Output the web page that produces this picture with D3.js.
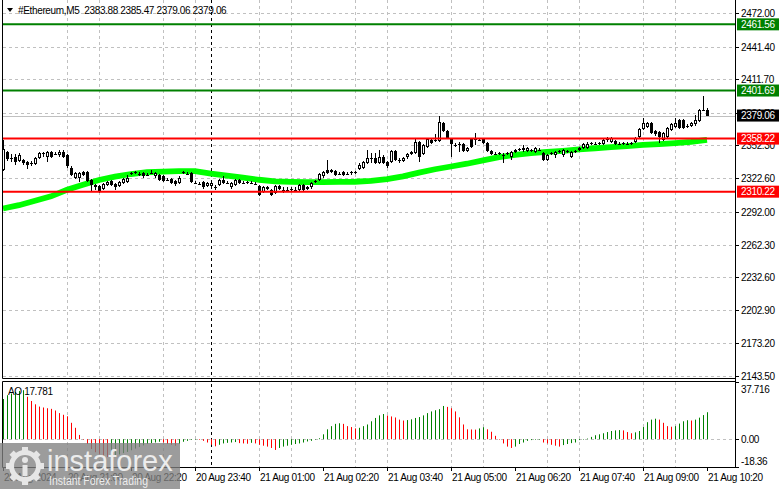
<!DOCTYPE html>
<html><head><meta charset="utf-8">
<script src="https://cdn.jsdelivr.net/npm/d3@7"></script>
<style>
html,body{margin:0;padding:0;background:#fff;overflow:hidden}
svg{display:block}
text{font-family:"Liberation Sans",Arial,sans-serif}
</style>
</head><body>
<svg id="chart" width="781" height="489"></svg>
<script>
// ---------------- DATA ----------------
const symbolTitle = "#Ethereum,M5";
const firstBar = "2024-08-20 19:40";
const barMinutes = 5;

const openP = [2330,2346,2342,2342,2338,2339,2337,2335,2335,2341,2344,2342,2346,2345,2343,2346,2343,2332,2323,2323,
2328,2328,2321,2316,2315,2313,2316,2320,2317,2315,2318,2319,2326,2327,2327,2327,2326,2328,2324,2325,
2324,2322,2322,2320,2318,2327,2327,2327,2319,2318,2319,2315,2315,2315,2316,2321,2319,2314,2316,2321,
2319,2318,2319,2318,2315,2310,2313,2312,2309,2315,2313,2313,2312,2313,2312,2316,2313,2314,2319,2321,
2324,2330,2330,2329,2327,2328,2327,2327,2327,2331,2332,2336,2340,2341,2336,2342,2337,2337,2347,2340,
2338,2342,2344,2345,2355,2344,2351,2357,2356,2356,2372,2365,2358,2352,2354,2353,2347,2358,2357,2358,
2358,2354,2347,2345,2344,2344,2344,2342,2346,2348,2348,2347,2347,2346,2349,2345,2339,2344,2343,2346,
2343,2346,2342,2346,2348,2350,2350,2353,2354,2353,2353,2357,2355,2356,2354,2353,2354,2353,2355,2360,
2367,2369,2372,2365,2364,2357,2360,2366,2369,2375,2375,2369,2370,2371,2374,2384,2383.88];
const highP = [2357,2347,2344,2344,2345,2340,2338,2338,2342,2346,2346,2347,2347,2346,2348,2348,2344,2333,2328,2328,
2329,2329,2322,2317,2316,2318,2320,2321,2318,2320,2323,2325,2328,2329,2328,2328,2327,2330,2328,2326,
2325,2323,2323,2321,2324,2329,2328,2328,2320,2319,2320,2319,2319,2316,2322,2324,2320,2319,2322,2322,
2320,2320,2320,2319,2316,2315,2315,2313,2316,2316,2314,2314,2314,2314,2317,2317,2315,2319,2321,2327,
2329,2339,2331,2330,2328,2329,2328,2329,2329,2336,2338,2348,2345,2345,2348,2343,2338,2348,2348,2341,
2342,2345,2347,2358,2356,2353,2359,2359,2362,2379,2373,2366,2359,2354,2355,2354,2351,2359,2363,2359,
2359,2355,2348,2346,2346,2345,2346,2347,2349,2350,2352,2351,2349,2351,2350,2346,2344,2346,2347,2348,
2349,2348,2347,2348,2351,2354,2355,2355,2355,2355,2358,2360,2360,2357,2355,2355,2355,2355,2360,2368,
2377,2373,2373,2366,2365,2364,2369,2372,2377,2376,2376,2371,2373,2380,2385,2397,2385.47];
const lowP = [2329,2338,2337,2334,2337,2334,2331,2333,2334,2340,2342,2337,2341,2343,2342,2341,2332,2324,2322,2319,
2324,2319,2310,2312,2309,2312,2315,2315,2312,2314,2317,2318,2325,2326,2324,2323,2324,2326,2323,2320,
2319,2320,2317,2315,2317,2326,2325,2318,2317,2316,2313,2314,2313,2312,2315,2317,2317,2313,2315,2317,
2317,2317,2317,2316,2306,2309,2312,2306,2308,2312,2309,2311,2311,2311,2311,2311,2312,2313,2318,2320,
2323,2326,2327,2324,2325,2324,2325,2325,2326,2330,2331,2335,2336,2335,2335,2335,2332,2336,2338,2336,
2337,2340,2343,2344,2337,2343,2350,2353,2355,2355,2364,2358,2342,2351,2346,2346,2346,2350,2352,2356,
2353,2346,2343,2343,2343,2336,2343,2339,2345,2347,2346,2346,2346,2345,2347,2338,2338,2343,2341,2345,
2342,2345,2341,2345,2347,2349,2349,2352,2352,2352,2352,2355,2354,2352,2352,2352,2352,2352,2354,2359,
2366,2368,2362,2361,2354,2356,2359,2365,2368,2367,2367,2368,2369,2370,2373,2383,2379.06];
const closeP = [2349,2340,2341,2337,2343,2336,2334,2336,2341,2345,2345,2346,2342,2344,2346,2342,2333,2325,2327,2327,
2325,2320,2316,2314,2311,2317,2319,2316,2314,2319,2322,2323,2327,2328,2326,2324,2325,2327,2327,2321,
2320,2321,2318,2317,2323,2328,2326,2319,2318,2317,2314,2318,2318,2314,2321,2318,2318,2318,2321,2318,
2318,2319,2318,2317,2307,2314,2314,2307,2315,2313,2312,2312,2313,2312,2316,2312,2314,2318,2320,2326,
2328,2327,2328,2325,2326,2325,2326,2328,2328,2334,2337,2341,2340.5,2336,2342,2336,2333,2347,2339,2339,
2341,2344,2346,2355,2342,2352,2358,2354,2357,2373,2365,2359,2353,2352.5,2353,2347,2350,2351,2358,2357,
2354,2347,2344,2344,2345,2343,2345,2346,2348,2349,2350,2350,2348,2350,2348,2339,2343,2345,2346,2347,
2348,2347,2346,2347,2350,2353,2353,2354,2353,2354,2357,2358,2359,2353,2353,2354,2353,2354,2359,2367,
2372,2372,2363,2362,2360,2363,2368,2371,2372,2368,2368,2370,2372,2375,2384,2384.5,2379.06];

// moving average, read every 4th bar
const maEvery = 4;
const maValues = [2295,2298,2302,2306,2312,2316.5,2320.8,2323.8,2326.2,2327.8,2328.3,2328.8,2328.8,2326.6,2324.8,
2323,2321,2319.5,2319,2318.8,2318.8,2319,2319.2,2320,2321.5,2324,2327.5,2330.5,2333,2335.5,
2338.5,2341.5,2343.5,2345,2346.2,2347.2,2348.5,2349.5,2350.5,2351.5,2352.5,2353.3,2354.2,2355.3,2357];

// Awesome Oscillator per bar
const aoValues = [26.5,29.0,30.1,31.2,31.8,32.3,28.0,25.2,23.0,21.5,20.9,20.4,20.0,18.9,17.2,16.1,15.1,10.8,7.5,2.8,
-0.2,-3.2,-6.5,-8.6,-9.7,-10.8,-11.8,-11.4,-10.8,-10.1,-9.2,-8.4,-7.3,-6.2,-5.2,-4.1,-3.2,-2.6,-2.2,-1.7,
-2.2,-3.2,-3.7,-4.3,-3.2,-1.7,-1.1,-0.4,0.1,-0.4,-1.1,-2.2,-3.7,-4.7,-3.7,-2.8,-2.4,-2.2,-1.9,-2.6,
-2.8,-3.0,-2.4,-2.8,-3.7,-4.3,-4.9,-5.8,-7.1,-5.8,-4.9,-4.3,-3.7,-3.2,-2.8,-2.2,-1.5,-1.1,-0.2,0.6,
3.2,6.5,8.6,10.1,10.5,10.1,8.6,8.0,7.1,7.5,8.6,9.7,11.8,14.0,15.7,16.6,15.6,15.0,14.3,12.9,
12.3,12.6,13.1,14.0,14.6,15.7,17.2,18.3,19.1,19.8,21.9,21.3,20.4,18.3,14.4,9.7,6.5,6.4,6.3,7.1,
7.9,6.5,4.9,2.2,0.0,-2.8,-4.9,-5.8,-4.9,-3.2,-2.2,-1.1,-0.6,-0.4,-0.2,-2.2,-2.8,-3.7,-4.3,-4.9,
-3.9,-3.2,-2.6,-2.2,-0.6,-0.2,0.4,1.5,2.6,3.2,3.9,4.7,5.4,5.8,6.0,5.8,4.7,3.9,4.5,5.4,
8.0,11.2,12.9,13.5,12.9,10.8,8.6,8.2,8.6,10.3,11.8,12.5,12.3,12.9,14.2,15.9,17.781];

const priceTicks = [2472.00,2441.40,2411.70,2381.70,2352.30,2322.60,2292.00,2262.30,2232.60,2202.90,2173.20,2143.50];
const aoTicks = [37.716, 0.00, -18.36];
const timeLabelTimes = ["2024-08-20 19:40","2024-08-20 21:00","2024-08-20 22:20","2024-08-20 23:40","2024-08-21 01:00","2024-08-21 02:20",
"2024-08-21 03:40","2024-08-21 05:00","2024-08-21 06:20","2024-08-21 07:40","2024-08-21 09:00","2024-08-21 10:20"];
const timeLabels = ["20 Aug 2024","20 Aug 21:00","20 Aug 22:20","20 Aug 23:40","21 Aug 01:00","21 Aug 02:20",
"21 Aug 03:40","21 Aug 05:00","21 Aug 06:20","21 Aug 07:40","21 Aug 09:00","21 Aug 10:20"];
const resistanceLevels = [2461.56, 2401.69];
const supportLevels = [2358.22, 2310.22];
const daySeparator = "2024-08-21 00:00";

// ---------------- LAYOUT ----------------
const W = 781, H = 489;
const L = 3, R = 735;
const mainTop = 0, mainBot = 378;
const aoTop = 382, aoBot = 467;
const parse = d3.timeParse("%Y-%m-%d %H:%M");
const t0 = parse(firstBar);
const times = openP.map((_, i) => d3.timeMinute.offset(t0, i * barMinutes));
const tEnd = times[times.length - 1];

const x = d3.scaleTime().domain([t0, tEnd]).range([3, 707]);
const y = d3.scaleLinear().domain([2143.5, 2472]).range([376, 12.8]);
const ya = d3.scaleLinear().domain([d3.min(aoTicks), d3.max(aoTicks)]).range([aoBot, aoTop]);

const svg = d3.select("#chart");
svg.append("rect").attr("width", W).attr("height", H).attr("fill", "#fff");

const GRID = "#c0c0c0";
const FONT = 10;
const LS = "-0.35px";

const gridTimes = d3.timeMinute.every(40).range(d3.timeMinute.offset(t0, 1), d3.timeMinute.offset(tEnd, 1))
  .filter(t => (t - t0) % (40 * 60000) === 0);
const gv = svg.append("g");
gridTimes.forEach(t => {
  const gx = Math.round(x(t)) + 0.5;
  gv.append("line").attr("x1", gx).attr("x2", gx).attr("y1", mainTop).attr("y2", mainBot)
    .attr("stroke", GRID).attr("stroke-dasharray", "3,3");
  gv.append("line").attr("x1", gx).attr("x2", gx).attr("y1", aoTop).attr("y2", aoBot)
    .attr("stroke", GRID).attr("stroke-dasharray", "3,3");
});
priceTicks.forEach(p => {
  const gy = Math.round(y(p)) + 0.5;
  gv.append("line").attr("x1", L).attr("x2", R).attr("y1", gy).attr("y2", gy)
    .attr("stroke", GRID).attr("stroke-dasharray", "3,3");
});
{
  const zy = Math.round(ya(0)) + 0.5;
  gv.append("line").attr("x1", L).attr("x2", R + 4).attr("y1", zy).attr("y2", zy)
    .attr("stroke", GRID).attr("stroke-dasharray", "3,3");
}

const lastClose = closeP[closeP.length - 1];
svg.append("line").attr("x1", L).attr("x2", R).attr("y1", Math.round(y(lastClose)) + 0.5).attr("y2", Math.round(y(lastClose)) + 0.5)
  .attr("stroke", "#c0c0c0").attr("stroke-width", 1);

{
  const sx = Math.round(x(parse(daySeparator))) + 0.5;
  svg.append("line").attr("x1", sx).attr("x2", sx).attr("y1", mainTop).attr("y2", aoBot)
    .attr("stroke", "#000").attr("stroke-dasharray", "3,3");
}

const maPts = maValues.map((v, k) => [x(times[k * maEvery]), y(v)]);
svg.append("path").attr("d", d3.line().curve(d3.curveLinear)(maPts))
  .attr("fill", "none").attr("stroke", "#00ff00").attr("stroke-width", 5.8);

const cg = svg.append("g");
openP.forEach((o, i) => {
  const c = closeP[i], h = highP[i], l = lowP[i];
  const cx = Math.round(x(times[i]));
  const yh = Math.round(y(h)), yl = Math.round(y(l));
  cg.append("rect").attr("x", cx).attr("y", yh).attr("width", 1).attr("height", Math.max(1, yl - yh)).attr("fill", "#000");
  const yt = Math.round(y(Math.max(o, c))), yb = Math.round(y(Math.min(o, c)));
  if (yb - yt < 2) {
    cg.append("rect").attr("x", cx - 1).attr("y", Math.round(y(c))).attr("width", 3).attr("height", 1).attr("fill", "#000");
  } else if (c > o) {
    cg.append("rect").attr("x", cx - 0.5).attr("y", yt + 0.5).attr("width", 2).attr("height", yb - yt - 1)
      .attr("fill", "#fff").attr("stroke", "#000").attr("stroke-width", 1);
  } else {
    cg.append("rect").attr("x", cx - 1).attr("y", yt).attr("width", 3).attr("height", yb - yt).attr("fill", "#000");
  }
});

resistanceLevels.forEach(p => {
  svg.append("line").attr("x1", L).attr("x2", R).attr("y1", y(p)).attr("y2", y(p)).attr("stroke", "#008000").attr("stroke-width", 2);
});
supportLevels.forEach(p => {
  svg.append("line").attr("x1", L).attr("x2", R).attr("y1", y(p)).attr("y2", y(p)).attr("stroke", "#ff0000").attr("stroke-width", 2);
});

const ag = svg.append("g");
aoValues.forEach((v, i) => {
  const up = i === 0 || v > aoValues[i - 1];
  const cx = Math.round(x(times[i]));
  const y0 = ya(0), y1 = ya(v);
  ag.append("rect").attr("x", cx).attr("y", Math.min(y0, y1)).attr("width", 1).attr("height", Math.max(0.5, Math.abs(y1 - y0)))
    .attr("fill", up ? "#008000" : "#ff0000");
});

const bd = svg.append("g").attr("stroke", "#000").attr("stroke-width", 1);
bd.append("line").attr("x1", 2.5).attr("x2", 2.5).attr("y1", 0).attr("y2", mainBot + 0.5);
bd.append("line").attr("x1", R + 0.5).attr("x2", R + 0.5).attr("y1", 0).attr("y2", aoBot + 0.5);
bd.append("line").attr("x1", 2.5).attr("x2", R + 0.5).attr("y1", mainBot + 0.5).attr("y2", mainBot + 0.5);
bd.append("line").attr("x1", 2.5).attr("x2", R + 0.5).attr("y1", aoTop - 0.5).attr("y2", aoTop - 0.5);
bd.append("line").attr("x1", 2.5).attr("x2", 2.5).attr("y1", aoTop - 0.5).attr("y2", aoBot + 0.5);
bd.append("line").attr("x1", 2.5).attr("x2", R + 0.5).attr("y1", aoBot + 0.5).attr("y2", aoBot + 0.5);

const ax = svg.append("g");
priceTicks.forEach(p => {
  const ty = Math.round(y(p)) + 0.5;
  ax.append("line").attr("x1", R).attr("x2", R + 4).attr("y1", ty).attr("y2", ty).attr("stroke", "#000");
  ax.append("text").attr("x", 741).attr("y", ty).attr("dy", "0.35em").attr("font-size", FONT).attr("letter-spacing", LS)
    .attr("fill", "#000").text(p.toFixed(2));
});
function priceBox(p, bg) {
  const cy = y(p);
  ax.append("rect").attr("x", 737).attr("y", cy - 6).attr("width", 42).attr("height", 12).attr("fill", bg);
  ax.append("text").attr("x", 741).attr("y", cy).attr("dy", "0.35em").attr("font-size", FONT).attr("letter-spacing", LS)
    .attr("fill", "#fff").text(p.toFixed(2));
}
resistanceLevels.forEach(p => priceBox(p, "#008000"));
priceBox(lastClose, "#000");
supportLevels.forEach(p => priceBox(p, "#ff0000"));

aoTicks.forEach((v, k) => {
  let ty = ya(v);
  if (k === 0) ty += 7; else if (k === aoTicks.length - 1) ty -= 6;
  ax.append("line").attr("x1", R).attr("x2", R + 4).attr("y1", Math.round(ya(v)) + 0.5).attr("y2", Math.round(ya(v)) + 0.5).attr("stroke", "#000");
  ax.append("text").attr("x", 741).attr("y", ty).attr("dy", "0.35em").attr("font-size", FONT).attr("letter-spacing", LS)
    .attr("fill", "#000").text(v === 0 ? "0.00" : String(v));
});
svg.append("text").attr("x", 8).attr("y", 391).attr("dy", "0.35em").attr("font-size", FONT).attr("letter-spacing", LS)
  .attr("fill", "#000").text("AO " + aoValues[aoValues.length - 1].toFixed(3));

timeLabelTimes.forEach((s, k) => {
  const tx = Math.round(x(parse(s)));
  svg.append("line").attr("x1", tx + 0.5).attr("x2", tx + 0.5).attr("y1", aoBot).attr("y2", aoBot + 4).attr("stroke", "#000");
  svg.append("text").attr("x", tx + 1).attr("y", 477).attr("dy", "0.35em").attr("font-size", FONT).attr("letter-spacing", LS)
    .attr("fill", "#000").text(timeLabels[k]);
});

svg.append("path").attr("d", "M7,8 L13,8 L10,12 Z").attr("fill", "#000");
svg.append("text").attr("x", 18).attr("y", 10).attr("dy", "0.35em").attr("font-size", FONT).attr("letter-spacing", LS)
  .attr("fill", "#000").style("white-space", "pre")
  .text(symbolTitle + "  " + [openP.at(-1), highP.at(-1), lowP.at(-1), closeP.at(-1)].map(v => v.toFixed(2)).join(" "));

const wm = svg.append("g");
wm.append("rect").attr("x", 0).attr("y", 443).attr("width", 180).attr("height", 46).attr("fill", "#808080").attr("opacity", 0.78);
const gear = wm.append("g").attr("transform", "translate(25,466)").attr("fill", "#e6e6e6");
for (let k = 0; k < 8; k++) {
  gear.append("rect").attr("x", -3).attr("y", -19).attr("width", 6).attr("height", 7).attr("transform", `rotate(${k * 45})`);
}
gear.append("circle").attr("r", 13.5).attr("fill", "none").attr("stroke", "#e6e6e6").attr("stroke-width", 5);
gear.append("circle").attr("cx", 0).attr("cy", -6).attr("r", 3);
gear.append("rect").attr("x", -2.5).attr("y", -1).attr("width", 5).attr("height", 11);
wm.append("text").attr("x", 47).attr("y", 471).attr("font-size", 29).attr("fill", "#ececec").text("instaforex");
wm.append("text").attr("x", 49).attr("y", 485).attr("font-size", 12).attr("fill", "#ececec")
  .attr("textLength", 99).attr("lengthAdjust", "spacingAndGlyphs").text("Instant Forex Trading");
</script>
</body></html>
